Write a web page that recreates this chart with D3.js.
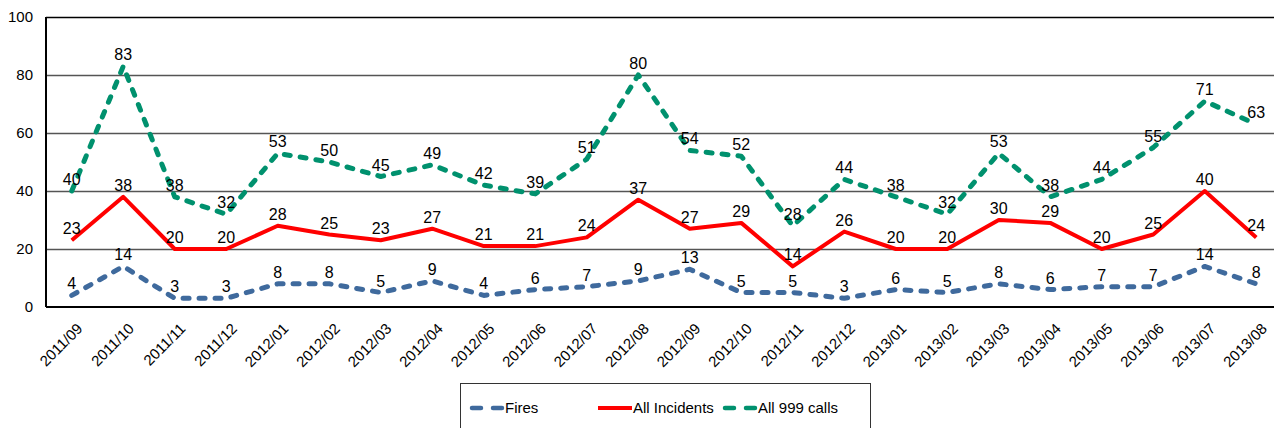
<!DOCTYPE html>
<html>
<head>
<meta charset="utf-8">
<script src="https://cdn.jsdelivr.net/npm/d3@7"></script>
<style>
  body { margin: 0; background: #fff; overflow: hidden; }
  text { font-family: "Liberation Sans", Arial, sans-serif; fill: #000; }
</style>
</head>
<body>
<div id="graf"></div>
<script>
const months = ["2011/09", "2011/10", "2011/11", "2011/12", "2012/01", "2012/02", "2012/03", "2012/04",
  "2012/05", "2012/06", "2012/07", "2012/08", "2012/09", "2012/10", "2012/11", "2012/12",
  "2013/01", "2013/02", "2013/03", "2013/04", "2013/05", "2013/06", "2013/07", "2013/08"]
const fires = [4, 14, 3, 3, 8, 8, 5, 9, 4, 6, 7, 9, 13, 5, 5, 3, 6, 5, 8, 6, 7, 7, 14, 8]
const incidents = [23, 38, 20, 20, 28, 25, 23, 27, 21, 21, 24, 37, 27, 29, 14, 26, 20, 20, 30, 29, 20, 25, 40, 24]
const calls = [40, 83, 38, 32, 53, 50, 45, 49, 42, 39, 51, 80, 54, 52, 28, 44, 38, 32, 53, 38, 44, 55, 71, 63]
const yTicks = [0, 20, 40, 60, 80, 100]

const series = [
  { name: "Fires", values: fires, color: "#3f6a9d", width: 5, dash: "6,10" },
  { name: "All Incidents", values: incidents, color: "#ff0000", width: 4, dash: null },
  { name: "All 999 calls", values: calls, color: "#00916e", width: 5, dash: "6,10" }
]

const ancho = 1274
const alto = 428
const mLeft = 46
const mTop = 17
const mBottom = 307

const svg = d3.select("#graf")
  .append("svg")
  .attr("width", ancho)
  .attr("height", alto)

const x = d3.scaleBand().domain(months).range([mLeft, mLeft + 24 * 51.5])
const xc = d => x(d) + x.bandwidth() / 2
const y = d3.scaleLinear().domain([0, 100]).range([mBottom, mTop])

// gridlines
const yAxis = d3.axisLeft(y).tickValues(yTicks).tickSize(-(ancho - mLeft + 20)).tickFormat("")
const grid = svg.append("g")
  .attr("transform", `translate(${mLeft}, 0)`)
  .call(yAxis)
grid.select(".domain").remove()
grid.selectAll(".tick line")
  .attr("stroke", d => d === 100 ? "#000" : "#555")
  .attr("stroke-width", d => d === 100 ? 1.5 : 1.3)
  .attr("opacity", d => d === 0 ? 0 : 1)

// y tick labels
svg.append("g")
  .selectAll("text")
  .data(yTicks)
  .enter()
  .append("text")
  .attr("x", 33)
  .attr("y", d => y(d))
  .attr("dy", "0.35em")
  .attr("text-anchor", "end")
  .style("font-size", "15px")
  .text(d => d)

// axes lines
svg.append("line")
  .attr("x1", mLeft).attr("x2", ancho)
  .attr("y1", mBottom).attr("y2", mBottom)
  .attr("stroke", "#000").attr("stroke-width", 2.2)
svg.append("line")
  .attr("x1", mLeft).attr("x2", mLeft)
  .attr("y1", mTop).attr("y2", mBottom)
  .attr("stroke", "#000").attr("stroke-width", 2)

// x tick labels
svg.append("g")
  .selectAll("text")
  .data(months)
  .enter()
  .append("text")
  .attr("transform", d => `translate(${xc(d) + 8}, ${mBottom + 19}) rotate(-45)`)
  .attr("text-anchor", "end")
  .attr("dy", "0.35em")
  .style("font-size", "15px")
  .text(d => d)

const line = d3.line()
  .x((d, i) => xc(months[i]))
  .y(d => y(d))

series.forEach(s => {
  svg.append("path")
    .datum(s.values)
    .attr("d", line)
    .attr("fill", "none")
    .attr("stroke", s.color)
    .attr("stroke-width", s.width)
    .attr("stroke-linecap", s.dash ? "round" : "butt")
    .attr("stroke-linejoin", "round")
    .attr("stroke-dasharray", s.dash)

  svg.append("g")
    .selectAll("text")
    .data(s.values)
    .enter()
    .append("text")
    .attr("x", (d, i) => xc(months[i]))
    .attr("y", d => y(d) - 6)
    .attr("text-anchor", "middle")
    .style("font-size", "16px")
    .text(d => d)
})

// legend
const legend = svg.append("g")
legend.append("rect")
  .attr("x", 460.5).attr("y", 383.5)
  .attr("width", 410).attr("height", 60)
  .attr("fill", "#fff").attr("stroke", "#333").attr("stroke-width", 1)

const legendPos = [{ x1: 472, x2: 504 }, { x1: 598, x2: 632 }, { x1: 725, x2: 757 }]
series.forEach((s, i) => {
  const p = legendPos[i]
  legend.append("line")
    .attr("x1", p.x1).attr("x2", p.x2)
    .attr("y1", 408).attr("y2", 408)
    .attr("stroke", s.color)
    .attr("stroke-width", s.dash ? 4.5 : 4)
    .attr("stroke-linecap", s.dash ? "round" : "butt")
    .attr("stroke-dasharray", s.dash ? "9,12" : null)
  legend.append("text")
    .attr("x", p.x2 + 1)
    .attr("y", 408)
    .attr("dy", "0.35em")
    .style("font-size", "15px")
    .text(s.name)
})
</script>
</body>
</html>
